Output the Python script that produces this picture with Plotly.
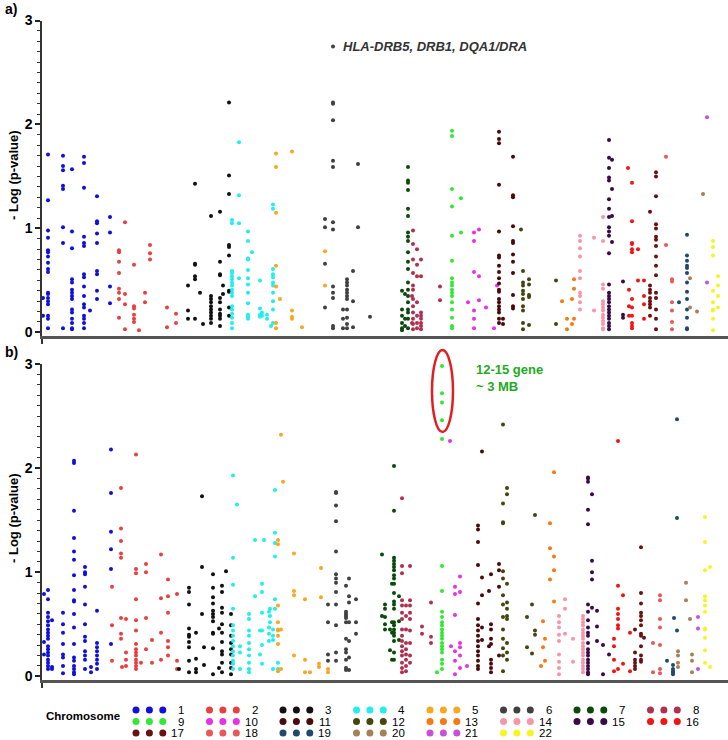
import plotly.graph_objects as go

# ---------------- colours per chromosome ----------------
CHROM_COLORS = ["#1010d8", "#e84040", "#111111", "#22eeee", "#f5a820", "#404040",
                "#0a4a0a", "#b03050", "#33e833", "#e830e8", "#4a0a0a", "#454510",
                "#f57a15", "#f597a8", "#3a0a48", "#f01515", "#6a1212", "#e85858",
                "#1e4a6e", "#a58058", "#c850d8", "#f5f520"]

# ---------------- panel a data: (genomic position, [-log10 p, ...]) ----------------
A_CHR1 = [(1, [0.33, 0.16]),
          (6, [1.71, 1.27, 0.98, 0.91, 0.79, 0.77, 0.73, 0.67, 0.61, 0.58, 0.38, 0.37, 0.33, 0.30, 0.27, 0.16, 0.13, 0.04]),
          (21, [1.70, 1.60, 1.56, 1.41, 1.38, 1.01, 0.86, 0.04]),
          (30, [1.57, 0.97, 0.81, 0.51, 0.48, 0.41, 0.38, 0.35, 0.32, 0.22, 0.19, 0.13, 0.09, 0.04, 0.03]),
          (42, [1.69, 1.63, 1.39, 0.92, 0.86, 0.83, 0.56, 0.53, 0.44, 0.35, 0.27, 0.24, 0.16, 0.13, 0.09, 0.04]),
          (48, [0.21]),
          (55, [1.31, 1.07, 1.05, 0.95, 0.86, 0.59, 0.56, 0.40, 0.32]),
          (68, [1.11, 0.96, 0.44, 0.28])]
A_CHR2 = [(77, [0.79, 0.77, 0.68, 0.57, 0.42, 0.38, 0.32, 0.14]),
          (83, [1.06, 0.37, 0.27, 0.03]),
          (92, [0.65, 0.25, 0.23, 0.17, 0.13, 0.10]),
          (97, [0.02]),
          (103, [0.38, 0.29]),
          (108, [0.84, 0.76, 0.70]),
          (125, [0.24, 0.05]),
          (134, [0.18, 0.09])]
A_CHR3 = [(146, [0.45, 0.21, 0.13]),
          (153, [1.43, 0.66, 0.65, 0.54, 0.51, 0.13]),
          (158, [0.38]),
          (161, [0.08]),
          (169, [1.12, 0.35, 0.32, 0.29, 0.25, 0.22, 0.19, 0.16, 0.13, 0.09]),
          (178, [1.16, 0.68, 0.56, 0.55, 0.33, 0.29, 0.22, 0.18, 0.16, 0.13, 0.06]),
          (181, [0.45, 0.37]),
          (187, [2.21, 1.51, 1.33, 0.84, 0.82, 0.74, 0.40, 0.39, 0.24, 0.16])]
A_CHR4 = [(190, [1.08, 1.05, 0.59, 0.57, 0.54, 0.51, 0.48, 0.45, 0.41, 0.38, 0.35, 0.25, 0.22, 0.18, 0.14, 0.09, 0.04]),
          (197, [1.83, 1.32, 1.05, 0.52]),
          (206, [0.97, 0.88, 0.71, 0.70, 0.60, 0.52, 0.46, 0.38, 0.28, 0.17, 0.15, 0.13]),
          (210, [0.77]),
          (218, [0.50, 0.23, 0.17, 0.15]),
          (220, [0.19, 0.16]),
          (225, [0.17, 0.13]),
          (229, [0.06]),
          (231, [1.23, 1.19, 0.61, 0.56, 0.53, 0.48, 0.45, 0.38, 0.30, 0.22, 0.09])]
A_CHR5 = [(234, [1.72, 1.59, 1.15, 0.64, 0.44, 0.09, 0.04]),
          (238, [0.32]),
          (250, [1.74, 0.21, 0.15, 0.13]),
          (260, [0.05]),
          (283, [0.78, 0.45])]
A_CHR6 = [(283, [1.09, 1.01, 0.66, 0.24]),
          (291, [2.75, 2.21, 2.20, 2.04, 1.65, 1.59, 1.06, 0.99, 0.44, 0.38, 0.33, 0.06, 0.04]),
          (301, [0.22, 0.13, 0.04]),
          (305, [0.51, 0.48, 0.45, 0.41, 0.38, 0.35, 0.32, 0.22, 0.14, 0.08, 0.04]),
          (311, [0.59, 0.30, 0.05]),
          (316, [1.62, 1.01]),
          (328, [0.15])]
A_CHR7 = [(360, [0.40, 0.22, 0.16, 0.09, 0.04, 0.02]),
          (363, [0.37, 0.13, 0.06]),
          (366, [1.59, 1.46, 1.44, 1.37, 1.19, 1.12, 0.96, 0.92, 0.88, 0.77, 0.68, 0.61, 0.48, 0.41, 0.35, 0.29, 0.22, 0.19, 0.13, 0.04])]
A_CHR8 = [(370, [0.35, 0.09]),
          (371, [0.98, 0.85, 0.70, 0.57, 0.45, 0.41, 0.32, 0.25, 0.19, 0.13, 0.08, 0.03]),
          (375, [0.80, 0.65, 0.54, 0.29, 0.16, 0.09, 0.04]),
          (379, [0.70, 0.54, 0.19, 0.16, 0.13, 0.09, 0.06, 0.03]),
          (398, [0.44, 0.31])]
A_CHR9 = [(410, [1.94, 1.89, 1.38, 1.21, 0.93, 0.69, 0.52, 0.48, 0.45, 0.41, 0.38, 0.35, 0.29, 0.22, 0.14, 0.06, 0.04]),
          (419, [1.29, 0.96])]
A_CHR10 = [(426, [0.29]),
           (432, [0.96, 0.88, 0.58, 0.21, 0.13, 0.04]),
           (437, [0.99, 0.54, 0.31]),
           (444, [0.24]),
           (452, [0.04]),
           (455, [0.45])]
A_CHR11 = [(457, [1.93, 1.86, 1.82, 1.42, 0.97, 0.74, 0.72, 0.64, 0.58, 0.52, 0.47, 0.41, 0.39, 0.32, 0.29, 0.25, 0.22, 0.19, 0.13, 0.09]),
           (461, [0.13, 0.08]),
           (471, [1.69, 1.32, 1.30, 1.02, 0.88, 0.86, 0.75, 0.68, 0.57, 0.36, 0.25, 0.23])]
A_CHR12 = [(479, [0.99]),
           (481, [0.59, 0.48, 0.45, 0.40, 0.37, 0.32, 0.25, 0.21, 0.09, 0.03]),
           (487, [0.51, 0.46, 0.36, 0.34, 0.07]),
           (514, [0.50, 0.08])]
A_CHR13 = [(520, [0.30]),
           (525, [0.13, 0.03]),
           (530, [0.32, 0.08]),
           (532, [0.51, 0.42, 0.13])]
A_CHR14 = [(538, [0.93, 0.88, 0.81, 0.73, 0.59, 0.52, 0.38, 0.35, 0.29, 0.22]),
           (552, [0.91, 0.21]),
           (561, [1.11, 0.88, 0.46, 0.42, 0.30, 0.27, 0.24, 0.21, 0.17, 0.14, 0.11, 0.08, 0.04, 0.03])]
A_CHR15 = [(567, [1.85, 1.68, 1.58, 1.49, 1.46, 1.28, 1.19, 1.11, 1.01, 0.97, 0.93, 0.76, 0.46, 0.38, 0.35, 0.32, 0.29, 0.25, 0.22, 0.19, 0.16, 0.13, 0.09, 0.06, 0.03]),
           (570, [1.66, 1.38, 1.12, 0.87]),
           (581, [0.49, 0.17, 0.14])]
A_CHR16 = [(586, [1.58]),
           (587, [0.41, 0.25, 0.16]),
           (590, [1.44, 1.07, 0.86, 0.85, 0.80, 0.77, 0.32, 0.24, 0.16, 0.09, 0.06, 0.04]),
           (596, [0.80, 0.50]),
           (602, [0.50, 0.35, 0.27, 0.13])]
A_CHR17 = [(608, [1.16, 0.45, 0.41, 0.38, 0.33, 0.30, 0.27, 0.24, 0.16]),
           (614, [1.54, 1.50, 1.31, 1.04, 1.00, 0.92, 0.89, 0.83, 0.73, 0.64, 0.55, 0.38, 0.33, 0.22, 0.13, 0.03])]
A_CHR18 = [(624, [1.69, 0.84]),
           (630, [0.51, 0.49, 0.29, 0.21, 0.10, 0.03])]
A_CHR19 = [(637, [0.29]),
           (645, [0.94, 0.74, 0.69, 0.64, 0.62, 0.57, 0.48, 0.39, 0.32, 0.22, 0.14, 0.04, 0.03])]
A_CHR20 = [(648, [0.52, 0.24]),
           (655, [0.20]),
           (661, [1.33])]
A_CHR21 = [(665, [2.07, 0.48])]
A_CHR22 = [(671, [0.88, 0.82, 0.74, 0.40, 0.29, 0.22, 0.21, 0.13, 0.02]),
           (676, [0.54, 0.45, 0.35, 0.24])]

# ---------------- panel b data ----------------
B_CHR1 = [(2, [0.79, 0.33, 0.21]),
          (6, [0.83, 0.74, 0.61, 0.57, 0.53, 0.49, 0.45, 0.42, 0.39, 0.36, 0.29, 0.26, 0.23, 0.20, 0.16, 0.13, 0.10, 0.07]),
          (10, [0.54, 0.09, 0.07]),
          (21, [0.61, 0.50, 0.42, 0.31, 0.21, 0.18, 0.10, 0.03]),
          (32, [2.07, 2.05, 1.59, 1.33, 1.20, 1.12, 0.97, 0.83, 0.73, 0.72, 0.60, 0.47, 0.31, 0.18, 0.15, 0.10, 0.07, 0.04, 0.02]),
          (43, [1.05, 1.00, 0.98, 0.86, 0.69, 0.50, 0.38, 0.34, 0.24, 0.20, 0.16, 0.07]),
          (49, [0.09, 0.04]),
          (55, [0.63, 0.32, 0.28, 0.24, 0.20, 0.16, 0.12, 0.07]),
          (69, [2.18, 1.76, 1.39, 1.22, 1.03, 0.31])]
B_CHR2 = [(70, [0.86, 0.49, 0.15]),
          (79, [1.81, 1.42, 1.30, 1.18, 1.14, 0.56, 0.41, 0.36]),
          (80, [0.09]),
          (84, [0.55, 0.23, 0.16, 0.10]),
          (94, [2.13, 1.03, 0.99, 0.74, 0.54, 0.44, 0.31, 0.26, 0.23, 0.20, 0.16, 0.13, 0.10, 0.07]),
          (99, [0.13]),
          (104, [1.08, 1.00, 0.56, 0.26]),
          (110, [0.35, 0.13]),
          (119, [1.17, 0.75, 0.42, 0.16]),
          (126, [0.93, 0.77, 0.61, 0.34, 0.28, 0.20]),
          (135, [0.79, 0.15, 0.07])]
B_CHR3 = [(137, [0.07]),
          (147, [0.85, 0.81, 0.69, 0.46, 0.40, 0.38, 0.33, 0.28, 0.15, 0.04]),
          (154, [0.42, 0.17, 0.07, 0.04]),
          (160, [1.73, 1.05, 0.60]),
          (162, [0.28, 0.11]),
          (171, [0.98, 0.85, 0.76, 0.70, 0.63, 0.60, 0.57, 0.53, 0.42, 0.41, 0.27, 0.02]),
          (177, [0.46, 0.08]),
          (180, [0.87, 0.81, 0.66, 0.61, 0.50, 0.42, 0.33, 0.24, 0.21, 0.13, 0.04]),
          (184, [1.01]),
          (189, [0.60, 0.49, 0.39, 0.32, 0.26, 0.21, 0.13, 0.08, 0.02])]
B_CHR4 = [(191, [1.93, 1.14, 0.88, 0.65, 0.49, 0.44, 0.39, 0.34, 0.29, 0.24, 0.20, 0.15, 0.12, 0.07]),
          (195, [1.65]),
          (198, [0.29, 0.23, 0.07]),
          (207, [0.60, 0.55, 0.44, 0.39, 0.32, 0.26, 0.20, 0.13, 0.07, 0.04]),
          (213, [1.31, 0.77]),
          (218, [0.44, 0.21]),
          (220, [0.89, 0.81, 0.61, 0.44, 0.30, 0.12]),
          (222, [1.31]),
          (227, [0.62, 0.47, 0.41, 0.34]),
          (228, [0.65, 0.58, 0.52]),
          (231, [0.45, 0.39, 0.35, 0.07]),
          (233, [1.79, 1.38, 1.28, 1.15, 0.74, 0.65]),
          (236, [0.13, 0.07])]
B_CHR5 = [(236, [1.31, 1.27, 0.68, 0.52, 0.45, 0.44, 0.39, 0.31, 0.05]),
          (239, [2.32, 0.45, 0.07]),
          (241, [1.87]),
          (252, [1.18, 0.82, 0.78, 0.20]),
          (263, [0.74, 0.16, 0.04]),
          (268, [0.04]),
          (277, [0.12, 0.09]),
          (279, [1.04, 0.76]),
          (286, [0.07, 0.04])]
B_CHR6 = [(286, [0.69, 0.52, 0.21, 0.15]),
          (294, [1.77, 1.76, 1.64, 1.49, 1.20, 0.98, 0.94, 0.90, 0.81, 0.69, 0.49, 0.23, 0.15]),
          (304, [0.87, 0.62, 0.60, 0.58, 0.56, 0.52, 0.36, 0.26, 0.23, 0.16, 0.08, 0.06]),
          (307, [0.94, 0.77, 0.71, 0.52, 0.34, 0.18, 0.06]),
          (314, [0.74, 0.52, 0.41])]
B_CHR7 = [(340, [1.17, 0.58]),
          (343, [0.69, 0.65, 0.57, 0.50, 0.45]),
          (348, [0.45, 0.25]),
          (350, [0.89, 0.52, 0.42, 0.16]),
          (352, [2.02, 1.59, 1.14, 1.11, 1.08, 1.05, 1.02, 0.97, 0.94, 0.89, 0.80, 0.72, 0.69, 0.65, 0.52, 0.49, 0.45, 0.42, 0.39, 0.34, 0.23, 0.16]),
          (357, [0.77, 0.53, 0.35])]
B_CHR8 = [(360, [1.71, 1.06, 0.99, 0.73, 0.68, 0.61, 0.55, 0.45, 0.39, 0.34, 0.29, 0.24, 0.20, 0.13, 0.08, 0.04]),
          (364, [0.68, 0.58, 0.45, 0.32, 0.26, 0.21, 0.16, 0.10, 0.05]),
          (368, [1.06, 0.73, 0.68, 0.61, 0.55, 0.44, 0.32, 0.20, 0.13]),
          (380, [0.48, 0.41]),
          (389, [0.71, 0.38, 0.32])]
B_CHR9 = [(395, [0.04]),
          (400, [2.98, 2.72, 2.63, 2.46, 2.28, 1.06, 0.82, 0.62, 0.57, 0.52, 0.49, 0.45, 0.42, 0.39, 0.36, 0.32, 0.29, 0.26, 0.23, 0.16, 0.12, 0.07])]
B_CHR10 = [(408, [2.26]),
           (409, [0.29]),
           (413, [0.86, 0.79, 0.59, 0.24, 0.15, 0.02]),
           (418, [0.96, 0.81, 0.32, 0.28, 0.20, 0.08]),
           (425, [0.10])]
B_CHR11 = [(436, [1.45, 1.41, 1.29, 1.07, 0.70, 0.55, 0.49, 0.44, 0.39, 0.34, 0.29, 0.24, 0.20, 0.15, 0.10, 0.07]),
           (440, [2.16, 0.95, 0.78, 0.47, 0.35]),
           (447, [0.82, 0.29]),
           (449, [0.98, 0.50, 0.45, 0.36, 0.31, 0.16, 0.12, 0.08, 0.04]),
           (457, [1.08, 1.02, 0.86, 0.20])]
B_CHR12 = [(461, [2.42, 1.66, 1.48, 1.47, 1.01, 0.94, 0.78, 0.69, 0.57, 0.45, 0.36, 0.27, 0.20, 0.05]),
           (465, [1.81, 1.75, 0.89, 0.71, 0.65, 0.58, 0.55, 0.32, 0.23, 0.16]),
           (485, [0.57, 0.28]),
           (490, [0.69, 0.22]),
           (493, [1.55, 0.44, 0.40])]
B_CHR13 = [(499, [0.10]),
           (501, [0.53, 0.28]),
           (503, [0.36, 0.15]),
           (508, [1.47, 1.23, 0.93]),
           (512, [1.96, 1.15, 1.02, 0.72])]
B_CHR14 = [(517, [0.58, 0.52, 0.47, 0.40, 0.34, 0.21, 0.14, 0.08, 0.02]),
           (523, [0.74, 0.65, 0.41]),
           (531, [0.36, 0.14]),
           (541, [0.58, 0.55, 0.52, 0.49, 0.45, 0.42, 0.39, 0.36, 0.32, 0.29, 0.26, 0.23, 0.20, 0.16, 0.13, 0.10, 0.07, 0.04])]
B_CHR15 = [(546, [1.91, 1.90, 1.87, 1.60, 1.46, 0.69, 0.62, 0.54, 0.47, 0.42, 0.39, 0.32, 0.26, 0.23, 0.20, 0.16, 0.13, 0.10, 0.07, 0.04, 0.02]),
           (550, [1.75, 1.11, 1.00, 0.93, 0.66]),
           (555, [0.63, 0.48, 0.34]),
           (561, [0.30, 0.02]),
           (567, [0.21])]
B_CHR16 = [(572, [0.36, 0.29, 0.16, 0.05]),
           (576, [2.26, 0.87, 0.65, 0.60, 0.55, 0.49, 0.46, 0.07]),
           (581, [0.78, 0.12]),
           (588, [0.42, 0.05])]
B_CHR17 = [(593, [0.45, 0.23, 0.16, 0.13, 0.10, 0.07]),
           (599, [1.24, 0.80, 0.70, 0.61, 0.58, 0.54, 0.49, 0.41, 0.39, 0.29, 0.20, 0.16, 0.14]),
           (602, [0.37])]
B_CHR18 = [(611, [0.32, 0.04]),
           (618, [0.78, 0.73, 0.55, 0.47, 0.30, 0.07, 0.03])]
B_CHR19 = [(625, [0.15]),
           (631, [0.11, 0.07, 0.05, 0.04, 0.02]),
           (632, [0.56]),
           (635, [2.47, 1.52, 0.44])]
B_CHR20 = [(636, [0.24, 0.20, 0.13, 0.09]),
           (644, [0.90, 0.73]),
           (648, [0.55]),
           (650, [0.21, 0.15, 0.04])]
B_CHR21 = [(656, [0.57, 0.46, 0.07])]
B_CHR22 = [(663, [1.53, 1.29, 1.02, 0.77, 0.73, 0.68, 0.62, 0.46, 0.45, 0.37, 0.25, 0.13]),
           (668, [1.05, 0.09])]

PANEL_A = [A_CHR1, A_CHR2, A_CHR3, A_CHR4, A_CHR5, A_CHR6, A_CHR7, A_CHR8, A_CHR9, A_CHR10, A_CHR11,
           A_CHR12, A_CHR13, A_CHR14, A_CHR15, A_CHR16, A_CHR17, A_CHR18, A_CHR19, A_CHR20, A_CHR21, A_CHR22]
PANEL_B = [B_CHR1, B_CHR2, B_CHR3, B_CHR4, B_CHR5, B_CHR6, B_CHR7, B_CHR8, B_CHR9, B_CHR10, B_CHR11,
           B_CHR12, B_CHR13, B_CHR14, B_CHR15, B_CHR16, B_CHR17, B_CHR18, B_CHR19, B_CHR20, B_CHR21, B_CHR22]

Y_TICKS = [0, 1, 2, 3]
Y_TITLE = "- Log (p-value)"
HLA_LABEL = "HLA-DRB5, DRB1, DQA1/DRA"
CLUSTER_LABEL = "12-15 gene<br>~ 3 MB"

# ---------------- figure ----------------
W, H = 728, 740
L = 42
LEG_TOP = 690
FONT = "Liberation Sans, Arial, sans-serif"


def px_x(px):
    return (px - L) / (W - L)


def px_y(py):
    return 1 - py / H


def flatten(cols):
    xs, ys = [], []
    for pos, vals in cols:
        xs += [pos] * len(vals)
        ys += list(vals)
    return xs, ys


fig = go.Figure()
for panel, (xa, ya) in ((PANEL_A, ("x", "y")), (PANEL_B, ("x2", "y2"))):
    for i, cols in enumerate(panel):
        xs, ys = flatten(cols)
        fig.add_trace(go.Scatter(x=xs, y=ys, mode="markers", xaxis=xa, yaxis=ya,
                                 marker=dict(size=4, color=CHROM_COLORS[i], line=dict(width=0)),
                                 name=str(i + 1), showlegend=False, hoverinfo="skip"))

# legend (drawn in a hidden strip subplot whose units are page pixels; y = -pixel row)
GROUP_X0, GROUP_DX, DOT_DX = 136, 73.5, 13.4
ROW_Y = [710, 721.5, 733]
lx, ly, lc = [], [], []
annotations = []
for chrom in range(1, 23):
    idx = chrom - 1
    g, r = idx % 8, idx // 8
    x0 = GROUP_X0 + g * GROUP_DX
    for k in range(3):
        lx.append(x0 + k * DOT_DX)
        ly.append(-ROW_Y[r])
        lc.append(CHROM_COLORS[idx])
    annotations.append(dict(x=x0 + 50, y=-ROW_Y[r], xref="x3", yref="y3", text=str(chrom),
                            showarrow=False, xanchor="right", yanchor="middle",
                            font=dict(family=FONT, size=11.5, color="black")))
fig.add_trace(go.Scatter(x=lx, y=ly, mode="markers", xaxis="x3", yaxis="y3",
                         marker=dict(size=7, color=lc, line=dict(width=0)),
                         showlegend=False, hoverinfo="skip", cliponaxis=False))
annotations.append(dict(x=44, y=-716, xref="x3", yref="y3", text="<b>Chromosome</b>", showarrow=False,
                        xanchor="left", yanchor="middle", font=dict(family=FONT, size=11.5, color="black")))

# titles / labels
for lab, py in (("a)", 9), ("b)", 352)):
    annotations.append(dict(x=px_x(3), y=px_y(py), xref="paper", yref="paper", text="<b>%s</b>" % lab,
                            showarrow=False, xanchor="left", yanchor="middle",
                            font=dict(family=FONT, size=14, color="black")))
for py in (175, 518):
    annotations.append(dict(x=px_x(13), y=px_y(py), xref="paper", yref="paper", text="<b>%s</b>" % Y_TITLE,
                            showarrow=False, textangle=-90, xanchor="center", yanchor="middle",
                            font=dict(family=FONT, size=13, color="black")))
annotations.append(dict(x=px_x(341), y=px_y(46), xref="paper", yref="paper",
                        text="<b><i>%s</i></b>" % HLA_LABEL, showarrow=False, xanchor="left", yanchor="middle",
                        font=dict(family=FONT, size=13, color="#333333")))
annotations.append(dict(x=px_x(474), y=px_y(378), xref="paper", yref="paper",
                        text="<b>%s</b>" % CLUSTER_LABEL, showarrow=False, xanchor="left", yanchor="middle",
                        align="left", font=dict(family=FONT, size=13, color="#1faa1f")))

shapes = [dict(type="circle", xref="paper", yref="paper",
               x0=px_x(432), x1=px_x(453), y0=px_y(432), y1=px_y(350),
               line=dict(color="#e02020", width=2.5))]

yaxis_common = dict(range=[-0.035, 3.0], tickvals=Y_TICKS, ticks="outside", ticklen=5, tickwidth=1.5,
                    tickcolor="#222", showline=True, linecolor="#333", linewidth=1.5,
                    showgrid=False, zeroline=False, automargin=False,
                    tickfont=dict(family=FONT, size=14, color="black", weight="bold"),
                    minor=dict(dtick=0.1, ticks="outside", ticklen=3, tickwidth=1.2, tickcolor="#333"))
xaxis_common = dict(range=[0, W - L], showline=True, linecolor="#555", linewidth=2.5,
                    tickvals=[0], ticks="outside", ticklen=5, tickwidth=1.5, tickcolor="#333",
                    showticklabels=False, showgrid=False, zeroline=False, automargin=False)

fig.update_layout(
    width=W, height=H, margin=dict(l=L, r=0, t=0, b=0),
    paper_bgcolor="white", plot_bgcolor="rgba(0,0,0,0)", template="none", showlegend=False,
    xaxis=dict(domain=[0, 1], anchor="y", **xaxis_common),
    yaxis=dict(domain=[px_y(336), px_y(20.5)], anchor="x", **yaxis_common),
    xaxis2=dict(domain=[0, 1], anchor="y2", **xaxis_common),
    yaxis2=dict(domain=[px_y(680), px_y(364)], anchor="x2", **yaxis_common),
    xaxis3=dict(domain=[0, 1], anchor="y3", range=[L, W], visible=False, fixedrange=True),
    yaxis3=dict(domain=[0, px_y(LEG_TOP)], anchor="x3", range=[-H, -LEG_TOP], visible=False, fixedrange=True),
    annotations=annotations, shapes=shapes,
)

fig.write_html("out.html", config={"displayModeBar": False},
               post_script="document.body.style.margin='0px';")
